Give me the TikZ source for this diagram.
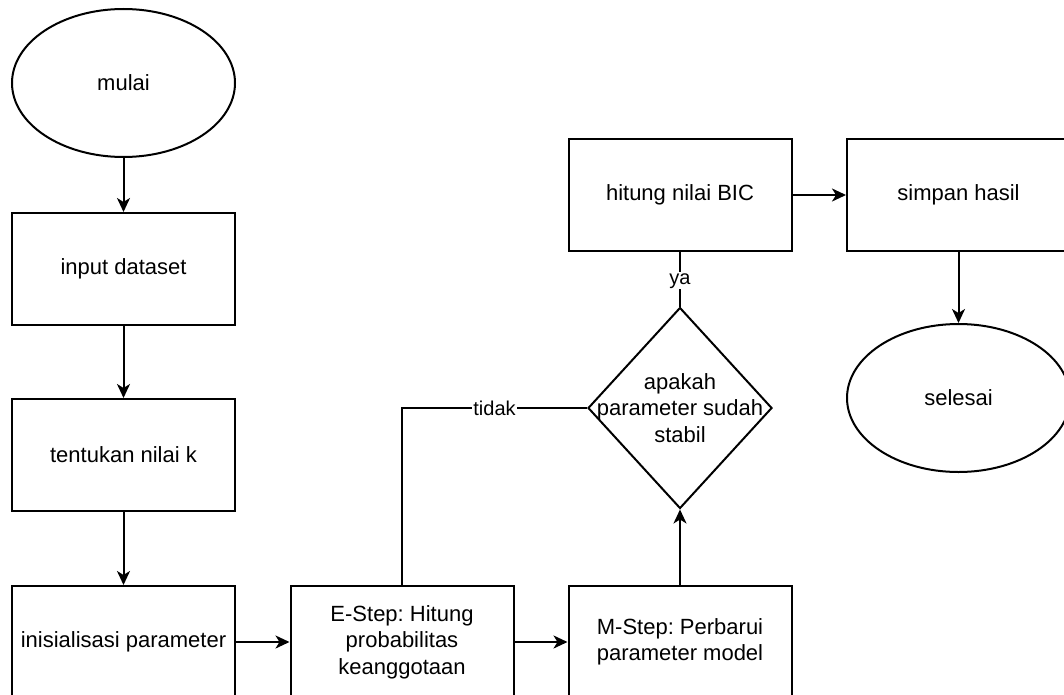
\documentclass[tikz,border=0pt]{standalone}
\usepackage{fontspec}
\setmainfont{Liberation Sans}
\usetikzlibrary{shapes.geometric,arrows.meta}
\begin{document}
\frenchspacing
\begin{tikzpicture}[x=1pt,y=-1pt,
  every node/.style={font=\fontsize{22}{26.5}\selectfont, text=black},
  procbox/.style={draw, line width=2pt, rectangle, minimum width=223pt, minimum height=112pt, inner sep=0pt, align=center},
  termbox/.style={draw, line width=2pt, ellipse, minimum width=223pt, minimum height=148pt, inner sep=0pt, align=center},
  decbox/.style={draw, line width=2pt, diamond, minimum width=184pt, minimum height=201pt, inner sep=0pt},
  conn/.style={line width=2pt},
  arr/.style={conn, -{Stealth[length=14pt,width=13pt,inset=4pt]}},
  edgelabel/.style={font=\fontsize{20}{24}\selectfont, fill=white, inner sep=1pt}
]
\useasboundingbox (0,0) rectangle (1064,695);

\node[termbox] (mulai) at (123.5,83) {mulai};
\node[procbox] (input) at (123.5,269) {input dataset};
\node[procbox] (tentukan) at (123.5,455) {tentukan nilai k};
\node[procbox] (init) at (123.5,642) {inisialisasi parameter};
\node[procbox] (estep) at (402,642) {E-Step: Hitung\\probabilitas\\keanggotaan};
\node[procbox] (mstep) at (680,642) {M-Step: Perbarui\\parameter model};
\node[decbox] (dec) at (680,408) {};
\node[align=center] (dectext) at (dec.center) {apakah\\parameter sudah\\stabil};
\node[procbox] (bic) at (680,195) {hitung nilai BIC};
\node[procbox] (simpan) at (958.5,195) {simpan hasil};
\node[termbox] (selesai) at (958.5,398) {selesai};

\draw[arr] (mulai) -- (input);
\draw[arr] (input) -- (tentukan);
\draw[arr] (tentukan) -- (init);
\draw[arr] (init) -- (estep);
\draw[arr] (estep) -- (mstep);
\draw[arr] (mstep) -- (dec);
\draw[conn] (dec.north) -- node[edgelabel, pos=0.47] {ya} (bic.south);
\draw[conn] (dec.west) -| node[edgelabel, pos=0.25] {tidak} (estep.north);
\draw[arr] (bic) -- (simpan);
\draw[arr] (simpan) -- (selesai);
\end{tikzpicture}
\end{document}
